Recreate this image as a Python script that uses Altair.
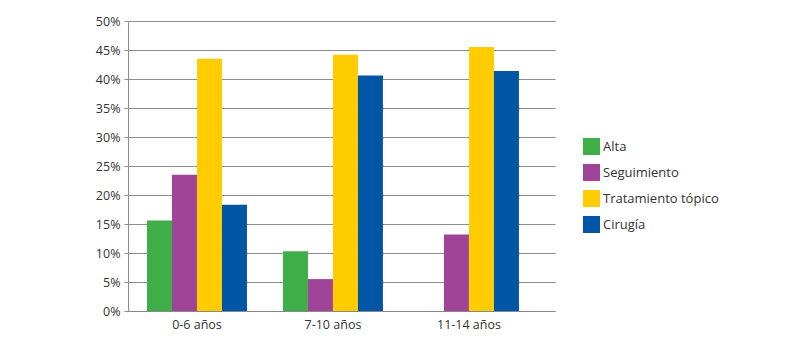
import altair as alt
import pandas as pd

grupos = ["0-6 años", "7-10 años", "11-14 años"]
series = ["Alta", "Seguimiento", "Tratamiento tópico", "Cirugía"]
alta = [0.156, 0.103, 0.0]
seguimiento = [0.235, 0.055, 0.132]
tratamiento = [0.435, 0.442, 0.455]
cirugia = [0.183, 0.406, 0.414]
colores = ["#3fae49", "#a0449a", "#ffcc00", "#0055a4"]

rows = []
for i, g in enumerate(grupos):
    for s, vals in zip(series, [alta, seguimiento, tratamiento, cirugia]):
        rows.append({"grupo": g, "serie": s, "valor": vals[i]})
df = pd.DataFrame(rows)

font = "Open Sans"

chart = alt.Chart(df).mark_bar().encode(
    x=alt.X("grupo:N", sort=grupos,
            scale=alt.Scale(paddingInner=0.265, paddingOuter=0.2025, align=0.345),
            axis=alt.Axis(title=None, labelAngle=0, ticks=False, domainColor="#888888",
                          labelFontSize=12.5, labelColor="#333333", labelFont=font,
                          labelPadding=7)),
    xOffset=alt.XOffset("serie:N", sort=series),
    y=alt.Y("valor:Q",
            scale=alt.Scale(domain=[0, 0.5], nice=False),
            axis=alt.Axis(title=None, format=".0%", values=[i * 0.05 for i in range(11)],
                          grid=True, gridColor="#8c8c8c", domainColor="#8c8c8c",
                          tickColor="#8c8c8c", tickSize=4,
                          labelFontSize=12.5, labelColor="#333333", labelFont=font,
                          labelPadding=4)),
    color=alt.Color("serie:N", sort=series,
                    scale=alt.Scale(domain=series, range=colores),
                    legend=alt.Legend(title=None, orient="none", legendX=455, legendY=117,
                                      symbolType="square", symbolSize=289,
                                      symbolStrokeWidth=0, symbolOpacity=1,
                                      labelFontSize=13, labelColor="#333333",
                                      labelFont=font, rowPadding=9, labelOffset=3)),
).properties(
    width=427, height=290,
    autosize=alt.AutoSizeParams(type="none"),
    padding={"left": 128, "top": 21, "right": 248, "bottom": 44},
).configure_view(stroke=None)

chart.save("out.html", embed_options={"renderer": "svg", "actions": False})
